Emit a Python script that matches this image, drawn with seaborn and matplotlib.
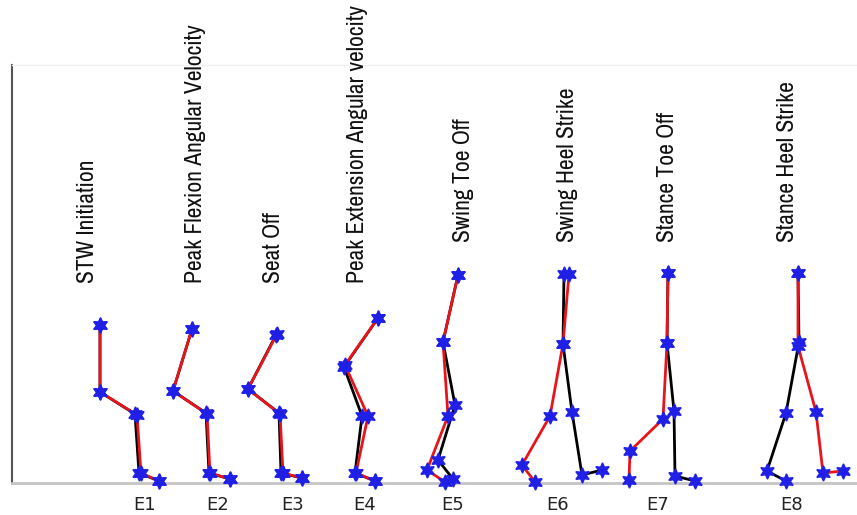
import matplotlib
matplotlib.use("Agg")
import matplotlib.pyplot as plt
from matplotlib import font_manager
from matplotlib.font_manager import FontProperties
import seaborn as sns
import pandas as pd

sns.set_theme(style="white")

events = ["E1", "E2", "E3", "E4", "E5", "E6", "E7", "E8"]
event_x = [133, 206, 281, 353, 441, 546, 646, 780]
phase_labels = ["STW Initiation", "Peak Flexion Angular Velocity", "Seat Off",
                "Peak Extension Angular velocity", "Swing Toe Off", "Swing Heel Strike",
                "Stance Toe Off", "Stance Heel Strike"]
label_x = [76, 183, 261, 346, 451, 555, 656, 776]
label_y = [200, 200, 200, 200, 241, 241, 241, 241]

# joint positions (hip->knee->ankle chain) for black and red models
black_x = {
    "E1": [88, 88, 123, 127, 147], "E2": [180, 161, 194, 197, 218],
    "E3": [264, 236, 267, 269, 290], "E4": [366, 332, 350, 343, 363],
    "E5": [446, 431, 443, 426, 441], "E6": [552, 551, 560, 570, 590],
    "E7": [656, 655, 662, 663, 683], "E8": [786, 787, 774, 755, 774],
}
black_y = {
    "E1": [158, 91, 69, 10, 2], "E2": [154, 92, 70, 10, 4],
    "E3": [148, 94, 70, 10, 5], "E4": [165, 116, 67, 10, 2],
    "E5": [208, 141, 78, 23, 4], "E6": [209, 139, 71, 8, 13],
    "E7": [210, 140, 72, 7, 2], "E8": [210, 141, 70, 12, 2],
}
red_x = {
    "E1": [88, 88, 125, 129, 147], "E2": [180, 161, 195, 198, 218],
    "E3": [265, 236, 268, 271, 290], "E4": [366, 333, 356, 344, 363],
    "E5": [446, 431, 436, 415, 433], "E6": [557, 551, 538, 510, 523],
    "E7": [656, 655, 651, 618, 617], "E8": [786, 786, 804, 811, 831],
}
red_y = {
    "E1": [158, 91, 68, 10, 2], "E2": [154, 92, 69, 10, 4],
    "E3": [149, 94, 69, 10, 5], "E4": [165, 118, 67, 10, 2],
    "E5": [208, 141, 67, 13, 1], "E6": [209, 139, 67, 18, 1],
    "E7": [210, 140, 64, 32, 3], "E8": [210, 137, 71, 10, 12],
}


def weight_num(w):
    table = {"ultralight": 100, "light": 300, "normal": 400, "regular": 400,
             "book": 400, "medium": 500, "roman": 400, "semibold": 600,
             "demibold": 600, "bold": 700, "heavy": 800, "black": 900}
    if isinstance(w, (int, float)):
        return w
    return table.get(str(w).lower(), 400)


def narrow_font():
    best = None
    for f in font_manager.fontManager.ttflist:
        nm = f.name.lower()
        if "dejavu" in nm:
            continue
        st = str(f.stretch).lower()
        is_narrow = ("condensed" in nm or "narrow" in nm or "condensed" in st
                     or "narrow" in st)
        if not is_narrow or f.style != "normal":
            continue
        w = weight_num(f.weight)
        score = abs(w - 380)
        if best is None or score < best[0]:
            best = (score, f.fname, w)
    return best


nf = narrow_font()
if nf is not None:
    label_fp = FontProperties(fname=nf[1], size=17)
    label_color = "#111111" if nf[2] < 650 else "#2a2a2a"
else:
    label_fp = FontProperties(family="DejaVu Sans", stretch="condensed", size=13)
    label_color = "#111111"

fig = plt.figure(figsize=(8.57, 5.15), dpi=100)
ax = fig.add_axes([12/857, 1-483/515, 845/857, (483-65)/515])
ax.set_xlim(0, 845)
ax.set_ylim(0, 418)

star = (6, 1, 0)
for e in events:
    dfb = pd.DataFrame({"x": black_x[e], "y": black_y[e]})
    dfr = pd.DataFrame({"x": red_x[e], "y": red_y[e]})
    sns.lineplot(data=dfb, x="x", y="y", sort=False, estimator=None, color="black",
                 lw=2.0, ax=ax, zorder=2)
    sns.lineplot(data=dfr, x="x", y="y", sort=False, estimator=None, color="#e8141b",
                 lw=2.0, ax=ax, zorder=3)
    for df in (dfb, dfr):
        ax.plot(df["x"], df["y"], ls="none", marker=star, ms=11, color="#1f1fe6",
                mec="#1f1fe6", zorder=4, clip_on=False)

for lab, lx, ly in zip(phase_labels, label_x, label_y):
    ax.text(lx, ly, lab, rotation=90, ha="center", va="bottom",
            fontproperties=label_fp, color=label_color, clip_on=False)

ax.set_xticks(event_x)
ax.set_xticklabels(events, fontsize=13, color="#222222")
ax.tick_params(axis="x", length=0, pad=9)
ax.set_yticks([])
ax.set_xlabel("")
ax.set_ylabel("")
ax.spines["right"].set_visible(False)
ax.spines["top"].set_color("#f0f0f0")
ax.spines["top"].set_linewidth(1.0)
ax.spines["left"].set_color("#555555")
ax.spines["left"].set_linewidth(1.5)
ax.spines["bottom"].set_color("#c4c4c4")
ax.spines["bottom"].set_linewidth(2.0)

fig.savefig("out.png", dpi=100)
